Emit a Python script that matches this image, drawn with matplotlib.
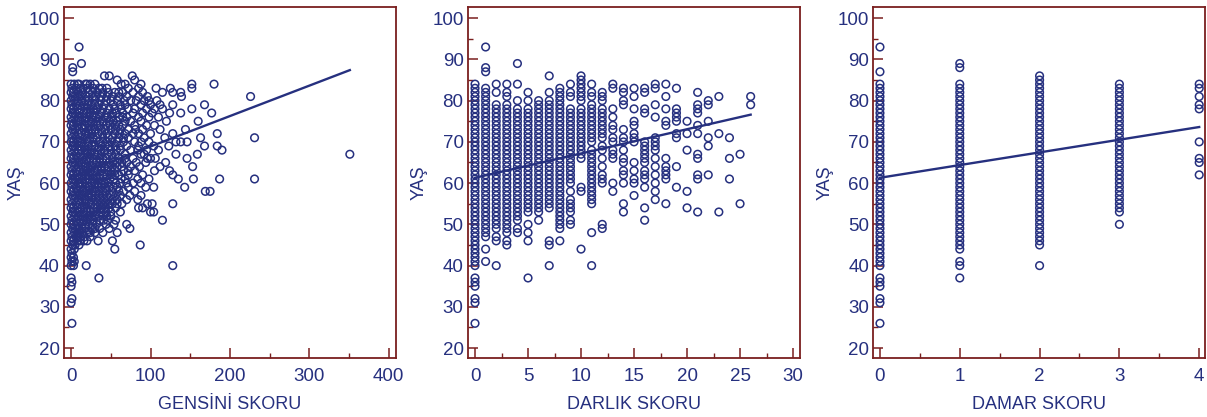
import matplotlib
matplotlib.use('Agg')
import matplotlib.pyplot as plt
from matplotlib.ticker import MultipleLocator

# Renkler
lacivert = '#26307f'
bordo = '#7a1f1f'

plt.rcParams['font.family'] = ['Liberation Sans Narrow', 'Liberation Sans', 'DejaVu Sans']

# GENSİNİ SKORU: her yaş için okunan gensini değerleri
gensini_rows = {
    93: [10], 89: [13], 88: [2], 87: [2],
    86: [42, 48, 77], 85: [58, 80],
    84: [0, 4, 8, 10, 18, 20, 24, 30, 63, 68, 88, 152, 180],
    83: [1, 6, 12, 20, 28, 35, 45, 72, 85, 107, 125, 152, 15, 39],
    82: [0, 3, 9, 15, 22, 33, 40, 47, 55, 65, 78, 90, 115, 128, 138, 27, 60],
    81: [2, 5, 12, 19, 27, 38, 52, 60, 70, 85, 96, 139, 226, 8, 31, 45],
    80: [0, 4, 8, 14, 22, 30, 44, 50, 58, 75, 82, 92, 98, 108, 18, 37, 67],
    79: [1, 6, 11, 17, 25, 35, 42, 62, 68, 88, 100, 112, 168, 128, 21, 30, 53],
    78: [0, 3, 8, 13, 20, 28, 33, 48, 55, 72, 80, 95, 105, 115, 152, 24, 40, 63],
    77: [2, 5, 10, 16, 24, 30, 38, 45, 65, 78, 90, 102, 124, 138, 177, 19, 52, 57],
    76: [0, 4, 9, 14, 20, 27, 35, 42, 52, 60, 70, 85, 98, 110, 31, 46, 65],
    75: [1, 6, 12, 18, 25, 32, 40, 48, 58, 75, 88, 160, 120, 9, 22, 36, 53, 68],
    74: [0, 3, 8, 14, 22, 28, 36, 44, 55, 65, 80, 95, 105, 17, 33, 49, 60],
    73: [2, 5, 10, 16, 23, 30, 38, 50, 62, 72, 90, 144, 112, 26, 43, 56, 81],
    72: [0, 4, 9, 13, 19, 26, 34, 45, 55, 68, 78, 85, 100, 184, 128, 22, 39, 61],
    71: [1, 6, 11, 17, 24, 32, 40, 52, 60, 72, 92, 163, 231, 118, 28, 47, 66],
    70: [0, 3, 8, 14, 21, 28, 35, 45, 58, 66, 80, 88, 98, 132, 138, 146, 11, 40, 51],
    69: [2, 5, 10, 16, 22, 30, 38, 48, 55, 70, 85, 104, 168, 184, 123, 26, 43, 62],
    68: [0, 4, 9, 13, 20, 26, 33, 42, 50, 62, 75, 95, 190, 110, 17, 37, 57, 84],
    67: [1, 6, 12, 18, 24, 30, 38, 46, 56, 68, 88, 92, 132, 159, 351, 21, 34, 51],
    66: [0, 3, 8, 14, 20, 28, 36, 44, 52, 60, 78, 96, 100, 106, 146, 24, 40, 68],
    65: [2, 5, 10, 17, 23, 32, 40, 48, 58, 70, 82, 94, 119, 13, 28, 36, 53, 64],
    64: [0, 4, 9, 15, 21, 27, 34, 42, 52, 64, 75, 86, 112, 153, 18, 38, 47, 58],
    63: [1, 6, 11, 16, 24, 30, 38, 46, 55, 66, 80, 105, 124, 20, 34, 50, 72],
    62: [0, 3, 8, 13, 19, 26, 32, 40, 50, 60, 72, 90, 128, 22, 36, 45, 55],
    61: [2, 5, 10, 15, 22, 28, 36, 44, 54, 68, 84, 98, 135, 154, 187, 231, 18, 32, 49, 63],
    60: [0, 4, 9, 14, 20, 26, 34, 42, 56, 62, 78, 88, 11, 30, 38, 47, 70],
    59: [1, 6, 12, 18, 24, 30, 38, 48, 58, 72, 94, 104, 143, 22, 34, 43, 53],
    58: [0, 3, 8, 14, 20, 27, 35, 44, 52, 66, 80, 169, 175, 16, 31, 40, 60],
    57: [2, 5, 10, 16, 22, 30, 40, 50, 62, 74, 88, 13, 26, 35, 45, 56],
    56: [0, 4, 9, 14, 20, 26, 36, 46, 58, 70, 84, 17, 31, 41, 52],
    55: [1, 6, 11, 18, 25, 32, 42, 52, 64, 96, 102, 128, 22, 37, 47, 58],
    54: [0, 3, 8, 13, 20, 28, 38, 48, 56, 85, 90, 16, 33, 43],
    53: [2, 5, 10, 16, 24, 32, 44, 62, 100, 104, 20, 28, 38, 50],
    52: [0, 4, 9, 15, 22, 30, 40, 50, 12, 26, 35, 45],
    51: [1, 6, 12, 19, 28, 36, 46, 56, 115, 16, 24, 41],
    50: [0, 3, 8, 14, 22, 32, 54, 70, 18, 27, 44],
    49: [2, 5, 10, 18, 26, 36, 48, 74, 14, 30],
    48: [0, 4, 8, 14, 20, 30, 40, 58, 11, 24],
    47: [1, 6, 12, 24, 9, 17],
    46: [0, 3, 8, 16, 20, 34, 52, 12],
    45: [2, 5, 10, 87],
    44: [0, 4, 55], 43: [1], 42: [0, 3], 41: [1, 4],
    40: [0, 3, 19, 128],
    37: [0, 35], 36: [1], 35: [0], 32: [1], 31: [0], 26: [1],
}

# DARLIK SKORU: her skor için okunan yaşlar
darlik_cols = {
    0: [26, 31, 32, 35, 36, 37, 40, 41, 42, 43, 44, 45, 46, 47, 48, 49, 50, 51, 52, 53, 54, 55,
        56, 57, 58, 59, 60, 61, 62, 63, 64, 65, 66, 67, 68, 69, 70, 71, 72, 73, 74, 75, 76, 77,
        78, 79, 80, 81, 82, 83, 84],
    1: [41, 44, 47, 48, 49, 50, 51, 52, 53, 54, 55, 56, 57, 58, 59, 60, 61, 62, 63, 64, 65, 66,
        67, 68, 69, 70, 71, 72, 73, 74, 75, 76, 77, 78, 79, 80, 81, 82, 83, 87, 88, 93],
    2: [40, 46, 47, 49, 50, 51, 52, 53, 54, 55, 56, 57, 58, 59, 60, 61, 62, 63, 64, 65, 66, 67,
        68, 69, 70, 71, 72, 73, 74, 75, 76, 77, 78, 79, 82, 84],
    3: [45, 46, 48, 49, 50, 51, 52, 53, 54, 55, 56, 57, 58, 59, 60, 61, 62, 63, 64, 65, 66, 67,
        68, 69, 70, 71, 72, 73, 74, 75, 76, 77, 78, 79, 81, 82, 84],
    4: [48, 49, 51, 52, 53, 54, 55, 56, 57, 58, 59, 60, 61, 62, 63, 64, 65, 66, 67, 68, 69, 70,
        71, 72, 73, 74, 75, 76, 77, 78, 80, 84, 89],
    5: [37, 46, 48, 50, 53, 54, 55, 56, 57, 58, 59, 60, 61, 62, 63, 64, 65, 66, 67, 68, 69, 70,
        71, 72, 73, 74, 75, 76, 77, 78, 80, 82],
    6: [51, 53, 54, 55, 56, 57, 58, 59, 60, 61, 62, 63, 64, 65, 66, 67, 68, 69, 70, 71, 72, 73,
        74, 75, 76, 77, 78, 79, 80],
    7: [40, 45, 46, 54, 55, 56, 57, 58, 59, 60, 61, 62, 63, 64, 65, 66, 67, 68, 69, 70, 71, 72,
        73, 74, 75, 76, 77, 78, 79, 80, 82, 86],
    8: [46, 49, 50, 51, 52, 53, 54, 55, 56, 57, 58, 59, 60, 61, 62, 63, 64, 65, 66, 67, 68, 69,
        70, 71, 72, 73, 74, 75, 76, 77, 78, 79, 80, 81, 82, 83],
    9: [50, 51, 53, 54, 55, 56, 58, 60, 61, 62, 63, 64, 65, 66, 67, 68, 69, 70, 71, 72, 73, 74,
        75, 76, 77, 78, 81, 82, 84],
    10: [44, 58, 59, 66, 67, 68, 69, 70, 71, 72, 73, 74, 75, 76, 77, 78, 80, 81, 82, 83, 84,
         85, 86],
    11: [40, 48, 55, 56, 57, 58, 59, 60, 61, 62, 63, 64, 65, 66, 67, 68, 70, 71, 72, 73, 74,
         75, 76, 77, 78, 79, 81, 82, 84],
    12: [49, 50, 60, 61, 62, 64, 66, 68, 69, 71, 72, 73, 74, 75, 76, 77, 78, 80, 81, 82],
    13: [58, 60, 66, 67, 68, 70, 71, 73, 74, 76, 78, 83, 84],
    14: [53, 55, 60, 62, 63, 65, 66, 68, 70, 71, 73, 79, 80, 82, 83],
    15: [57, 60, 61, 63, 65, 70, 71, 72, 74, 75, 78, 81, 83],
    16: [51, 54, 59, 61, 62, 63, 65, 66, 67, 68, 69, 70, 77, 78, 82, 83],
    17: [56, 58, 60, 62, 64, 66, 68, 69, 70, 71, 76, 79, 83, 84],
    18: [55, 61, 62, 63, 64, 66, 74, 75, 78, 81, 84],
    19: [59, 64, 71, 72, 75, 76, 77, 78, 83],
    20: [54, 58, 68, 72, 75],
    21: [53, 61, 62, 66, 67, 72, 74, 77, 78, 79, 82],
    22: [62, 69, 71, 75, 79, 80],
    23: [53, 72, 81],
    24: [61, 66, 71],
    25: [55, 67],
    26: [79, 81],
}

# DAMAR SKORU: her skor için okunan yaşlar
damar_cols = {
    0: [26, 31, 32, 35, 36, 37, 40, 41, 42, 43, 44, 45, 46, 47, 48, 49, 50, 51, 52, 53, 54, 55,
        56, 57, 58, 59, 60, 61, 62, 63, 64, 65, 66, 67, 68, 69, 70, 71, 72, 73, 74, 75, 76, 77,
        78, 79, 80, 81, 82, 83, 84, 87, 93],
    1: [37, 40, 41, 44, 45, 46, 47, 48, 49, 50, 51, 52, 53, 54, 55, 56, 57, 58, 59, 60, 61, 62,
        63, 64, 65, 66, 67, 68, 69, 70, 71, 72, 73, 74, 75, 76, 77, 78, 79, 80, 81, 82, 83, 84,
        88, 89],
    2: [40, 45, 46, 47, 48, 49, 50, 51, 52, 53, 54, 55, 56, 57, 58, 59, 60, 61, 62, 63, 64, 65,
        66, 67, 68, 69, 70, 71, 72, 73, 74, 75, 76, 77, 78, 79, 80, 81, 82, 83, 84, 85, 86],
    3: [50, 53, 54, 55, 56, 57, 58, 59, 60, 61, 62, 63, 64, 65, 66, 67, 68, 69, 70, 71, 72, 73,
        74, 75, 76, 77, 78, 79, 80, 81, 82, 83, 84],
    4: [62, 65, 66, 70, 78, 79, 81, 83, 84],
}

# Regresyon doğruları (x uçları, y uçları)
gensini_line = ([0, 351], [61.5, 87.4])
darlik_line = ([0, 26], [61.3, 76.6])
damar_line = ([0, 4], [61.3, 73.6])


def flatten(d, swap=False):
    xs, ys = [], []
    for k, vals in d.items():
        for v in vals:
            if swap:
                xs.append(v)
                ys.append(k)
            else:
                xs.append(k)
                ys.append(v)
    return xs, ys


panels = [
    (flatten(gensini_rows, swap=True), gensini_line, 'GENSİNİ SKORU',
     (-9, 409), [0, 100, 200, 300, 400], 50, 0.0530),
    (flatten(darlik_cols), darlik_line, 'DARLIK SKORU',
     (-0.69, 30.62), [0, 5, 10, 15, 20, 25, 30], 2.5, 0.3875),
    (flatten(damar_cols), damar_line, 'DAMAR SKORU',
     (-0.084, 4.075), [0, 1, 2, 3, 4], 0.5, 0.7235),
]

fig = plt.figure(figsize=(12.07, 4.17), dpi=100)

for (xs, ys), line, xlabel, xlim, xticks, xminor, left in panels:
    ax = fig.add_axes([left, 0.1415, 0.2750, 0.8417])
    ax.scatter(xs, ys, s=30, facecolors='none', edgecolors=lacivert, linewidths=1.1, zorder=3)
    ax.plot(line[0], line[1], color=lacivert, lw=1.7, zorder=4)
    ax.set_xlim(*xlim)
    ax.set_ylim(17.6, 102.7)
    ax.set_xticks(xticks)
    ax.xaxis.set_minor_locator(MultipleLocator(xminor))
    ax.set_yticks(range(20, 101, 10))
    ax.yaxis.set_minor_locator(MultipleLocator(5))
    for s in ax.spines.values():
        s.set_color(bordo)
        s.set_linewidth(1.3)
    ax.tick_params(which='major', direction='in', length=7, width=1.1, color=bordo,
                   labelcolor=lacivert, labelsize=13.5, top=False, right=False)
    ax.tick_params(which='minor', direction='in', length=3.5, width=1.0, color=bordo,
                   top=False, right=False)
    ax.tick_params(axis='x', pad=7)
    ax.tick_params(axis='y', pad=3)
    ax.set_xlabel(xlabel, color=lacivert, fontsize=13, labelpad=8)
    ax.set_ylabel('YAŞ', color=lacivert, fontsize=13, va='center')
    ax.yaxis.set_label_coords(-0.145, 0.5)

fig.savefig('out.png', dpi=100)
